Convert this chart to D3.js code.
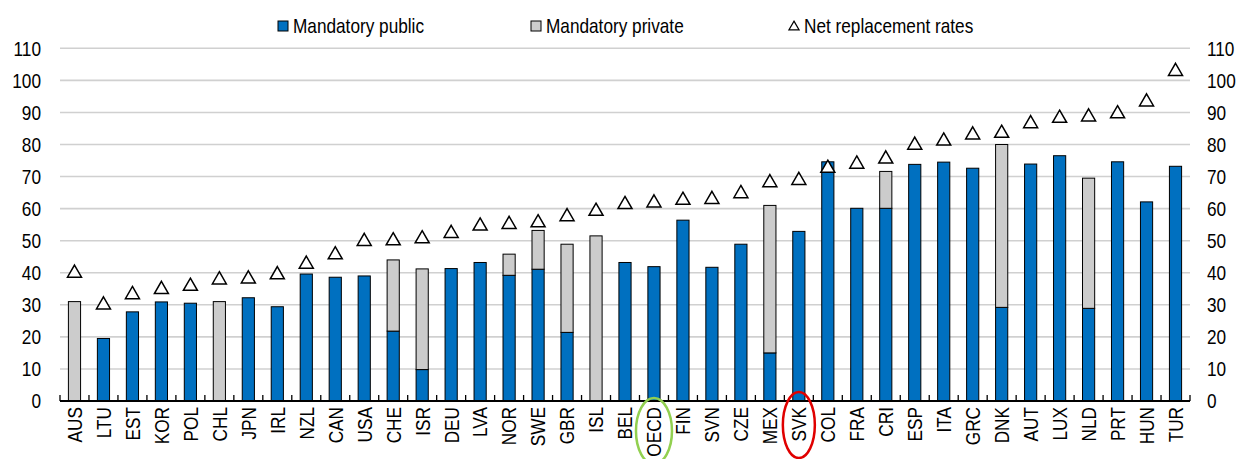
<!DOCTYPE html>
<html><head><meta charset="utf-8">
<script src="https://cdn.jsdelivr.net/npm/d3@7"></script>
<style>
html,body{margin:0;padding:0;background:#fff;}
svg{display:block;}
</style></head>
<body>
<svg id="chart" width="1237" height="459"></svg>
<script>
const categories = ["AUS","LTU","EST","KOR","POL","CHL","JPN","IRL","NZL","CAN","USA","CHE","ISR","DEU","LVA","NOR","SWE","GBR","ISL","BEL","OECD","FIN","SVN","CZE","MEX","SVK","COL","FRA","CRI","ESP","ITA","GRC","DNK","AUT","LUX","NLD","PRT","HUN","TUR"];
const mandatoryPublic = [0,19.5,27.8,30.9,30.5,0,32.2,29.4,39.6,38.6,39.0,21.8,9.8,41.3,43.2,39.2,41.1,21.4,0,43.2,41.9,56.4,41.7,48.9,15.0,52.9,74.6,60.1,60.1,73.8,74.5,72.6,29.2,73.9,76.5,28.9,74.6,62.1,73.2];
const mandatoryPrivate = [31.0,0,0,0,0,31.0,0,0,0,0,0,22.2,31.4,0,0,6.6,12.1,27.5,51.5,0,0,0,0,0,46.0,0,0,0,11.5,0,0,0,50.8,0,0,40.6,0,0,0];
const netReplacement = [40.2,30.3,33.5,35.1,36.1,38.1,38.4,39.7,43.0,45.9,50.1,50.3,50.9,52.6,54.9,55.4,55.9,57.8,59.5,61.6,62.1,62.9,63.2,65.0,68.4,69.1,72.9,74.2,75.8,80.1,81.4,83.3,83.8,86.8,88.5,88.9,89.9,93.6,103.1];
const yTicks = [0,10,20,30,40,50,60,70,80,90,100,110];
const legendLabels = ["Mandatory public","Mandatory private","Net replacement rates"];

(function(){
function hasFont(name){
  const cv=document.createElement("canvas").getContext("2d");
  const s="AUS Mandatory 0123";
  cv.font="20px monospace"; const a=cv.measureText(s).width;
  cv.font="20px '"+name+"', monospace"; const b=cv.measureText(s).width;
  return Math.abs(a-b)>0.5;
}
const narrow = hasFont("Liberation Sans Narrow");
const FONT = narrow ? "'Liberation Sans Narrow', 'Arial Narrow', sans-serif" : "'Liberation Sans', Arial, sans-serif";
const SX = narrow ? 1 : 0.82;
const FS = 21;

const blue="#0070C0", grey="#CCCCCC";
const svg=d3.select("#chart");
const pLeft=60, pRight=1190, pTop=48.3, pBottom=401;

const x=d3.scaleBand().domain(categories).range([pLeft,pRight]).paddingInner(0.58).paddingOuter(0.29);
const xb=d3.scaleBand().domain(categories).range([pLeft,pRight]).padding(0);
const y=d3.scaleLinear().domain([0,110]).range([pBottom,pTop]);

svg.append("g").selectAll("line").data(yTicks.filter(d=>d>0)).join("line")
  .attr("x1",pLeft).attr("x2",pRight).attr("y1",d=>y(d)).attr("y2",d=>y(d))
  .attr("stroke","#d0d0d0").attr("stroke-width",1.6);

function label(sel){ sel.attr("font-family",FONT).attr("font-size",FS).attr("fill","#000"); }
const lg=svg.append("g");
yTicks.forEach(t=>{
  lg.append("text").attr("transform",`translate(41,${y(t)}) scale(${SX},1)`).attr("text-anchor","end").attr("dy","0.35em").text(t).call(label);
  lg.append("text").attr("transform",`translate(1207,${y(t)}) scale(${SX},1)`).attr("text-anchor","start").attr("dy","0.35em").text(t).call(label);
});

const bars=svg.append("g");
categories.forEach((cat,i)=>{
  const pub=mandatoryPublic[i], pri=mandatoryPrivate[i];
  if(pub>0) bars.append("rect").attr("x",x(cat)).attr("width",x.bandwidth()).attr("y",y(pub)).attr("height",y(0)-y(pub))
    .attr("fill",blue).attr("stroke","#000").attr("stroke-width",1);
  if(pri>0) bars.append("rect").attr("x",x(cat)).attr("width",x.bandwidth()).attr("y",y(pub+pri)).attr("height",y(pub)-y(pub+pri))
    .attr("fill",grey).attr("stroke","#000").attr("stroke-width",1);
});

svg.append("line").attr("x1",pLeft).attr("x2",pRight).attr("y1",pBottom).attr("y2",pBottom).attr("stroke","#000").attr("stroke-width",1.8);
const tickPos = categories.map(d=>xb(d)).concat([pRight]);
svg.append("g").selectAll("line").data(tickPos).join("line")
  .attr("x1",d=>d).attr("x2",d=>d).attr("y1",pBottom).attr("y2",pBottom-6).attr("stroke","#000").attr("stroke-width",1.3);

const tri=d3.symbol().type(d3.symbolTriangle).size(85);
svg.append("g").selectAll("path").data(categories).join("path")
  .attr("d",tri).attr("transform",(d,i)=>`translate(${x(d)+x.bandwidth()/2},${y(netReplacement[i])+1})`)
  .attr("fill","#fff").attr("stroke","#000").attr("stroke-width",1.5);

svg.append("g").selectAll("text").data(categories).join("text")
  .attr("transform",d=>`translate(${x(d)+x.bandwidth()/2},407) rotate(-90) scale(${SX},1)`)
  .attr("text-anchor","end").attr("dy","0.35em").text(d=>d).call(label);

svg.append("ellipse").attr("cx",x("OECD")+x.bandwidth()/2).attr("cy",431).attr("rx",18).attr("ry",33)
  .attr("fill","none").attr("stroke","#92D050").attr("stroke-width",2.5);
svg.append("ellipse").attr("cx",x("SVK")+x.bandwidth()/2).attr("cy",425).attr("rx",16).attr("ry",33)
  .attr("fill","none").attr("stroke","#E00000").attr("stroke-width",2.5);

const leg=svg.append("g");
const lx=[278,531,789];
leg.append("rect").attr("x",lx[0]).attr("y",21).attr("width",10).attr("height",10).attr("fill",blue).attr("stroke","#000").attr("stroke-width",1);
leg.append("rect").attr("x",lx[1]).attr("y",21).attr("width",10).attr("height",10).attr("fill",grey).attr("stroke","#000").attr("stroke-width",1);
leg.append("path").attr("d",d3.symbol().type(d3.symbolTriangle).size(45)).attr("transform",`translate(${lx[2]+5},27)`)
  .attr("fill","#fff").attr("stroke","#000").attr("stroke-width",1.2);
legendLabels.forEach((t,i)=>{
  leg.append("text").attr("transform",`translate(${lx[i]+15},26) scale(${SX},1)`).attr("dy","0.35em").text(t).call(label);
});
})();
</script>
</body></html>
